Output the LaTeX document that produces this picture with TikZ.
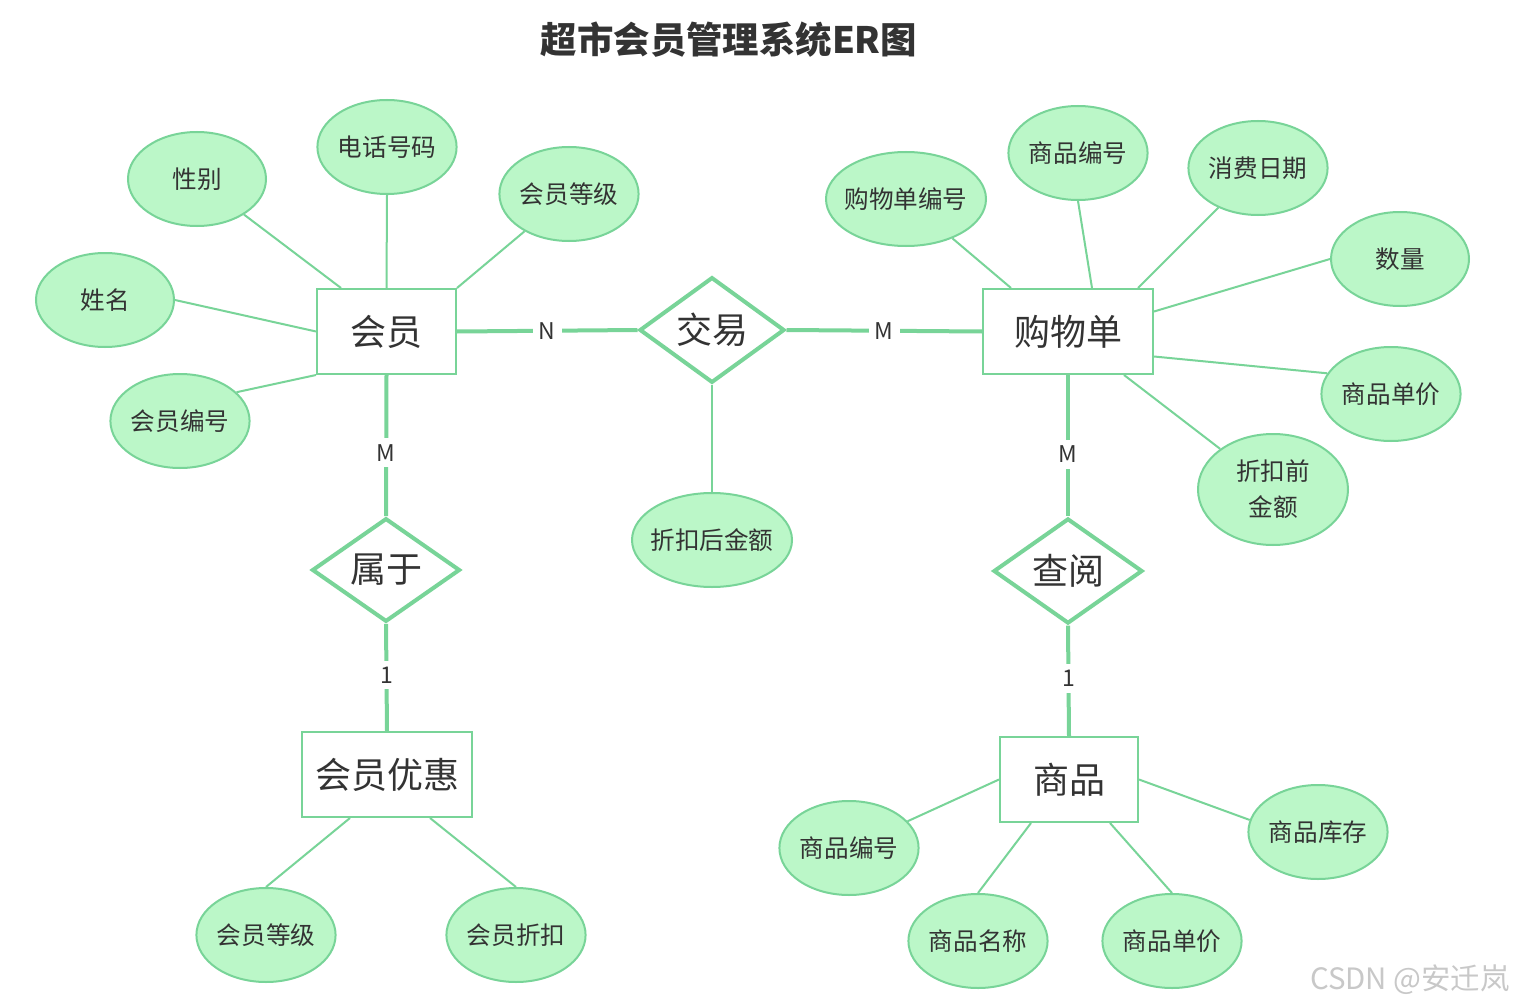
\documentclass[tikz,border=0pt]{standalone}
\usepackage{fontspec}
\setmainfont{Noto Sans CJK SC}
\usetikzlibrary{shapes.geometric,calc}
\definecolor{efill}{HTML}{BBF7C8}
\definecolor{eline}{HTML}{78D498}
\definecolor{txt}{HTML}{333333}
\definecolor{wm}{HTML}{C8C8C8}
\tikzset{
  attr/.style={ellipse,draw=eline,line width=1pt,fill=efill,inner sep=0pt,
    minimum width=69pt,minimum height=47pt,text=txt,font=\fontsize{12.3pt}{15pt}\selectfont,align=center},
  ent/.style={rectangle,draw=eline,line width=1pt,fill=white,inner sep=0pt,
    text=txt,font=\fontsize{18pt}{21pt}\selectfont},
  rel/.style={diamond,draw=eline,line width=2pt,fill=white,inner sep=0pt,
    minimum width=72.5pt,minimum height=50pt,text=txt,font=\fontsize{18pt}{21pt}\selectfont},
  aline/.style={draw=eline,line width=1pt},
  rline/.style={draw=eline,line width=2pt},
  card/.style={fill=white,inner sep=3pt,text=txt,font=\fontsize{11.5pt}{14pt}\selectfont},
}
\begin{document}
\begin{tikzpicture}[x=0.5pt,y=-0.5pt]
\path[use as bounding box,fill=white] (0,0) rectangle (1516,1006);
\node[text=txt,font=\fontsize{18.2pt}{22pt}\selectfont\bfseries] (title) at (729,40) {超市会员管理系统ER图};

% entities
\node[ent,minimum width=69.5pt,minimum height=42.5pt] (m) at (386.5,331.5) {会员};
\node[ent,minimum width=85pt,minimum height=42.5pt] (g) at (1068,331.5) {购物单};
\node[ent,minimum width=85pt,minimum height=42.5pt] (v) at (387,774.5) {会员优惠};
\node[ent,minimum width=69pt,minimum height=42.5pt] (p) at (1069,779.5) {商品};

% relationships
\node[rel] (jy) at (712,330) {交易};
\node[rel,minimum width=74pt] (sy) at (386,570) {属于};
\node[rel,minimum width=74.5pt] (cy) at (1068,571) {查阅};

% attributes of 会员
\node[attr] (xb) at (197,179) {性别};
\node[attr] (dh) at (387,147) {电话号码};
\node[attr] (dj1) at (569,194) {会员等级};
\node[attr] (xm) at (105,300) {姓名};
\node[attr] (bh1) at (180,421) {会员编号};
% attribute of 交易
\node[attr,minimum width=80pt] (zh) at (712,540) {\makebox[45pt]{折扣后金额}};
% attributes of 购物单
\node[attr,minimum width=80pt] (gbh) at (906,199) {\makebox[45pt]{购物单编号}};
\node[attr] (sbh1) at (1078,153) {商品编号};
\node[attr] (rq) at (1258,168) {消费日期};
\node[attr] (sl) at (1400,259) {数量};
\node[attr] (dj2) at (1391,394) {商品单价};
\node[attr,minimum width=75pt,minimum height=55.5pt,font=\fontsize{12.3pt}{18pt}\selectfont] (zq) at (1273,489.5) {折扣前\\金额};
% attributes of 会员优惠
\node[attr] (dj3) at (266,935) {会员等级};
\node[attr] (zk) at (516,935) {会员折扣};
% attributes of 商品
\node[attr] (sbh2) at (849,848) {商品编号};
\node[attr] (mc) at (978,941) {商品名称};
\node[attr] (dj4) at (1172,941) {商品单价};
\node[attr] (kc) at (1318,832) {商品库存};

% attribute lines
\draw[aline] (xb) -- ($(m.north west)+(25,0)$);
\draw[aline] (dh.south) -- (m.north);
\draw[aline] (dj1) -- (m.north east);
\draw[aline] (xm.east) -- (m.west);
\draw[aline] (bh1.27) -- (m.south west);
\draw[aline] (jy.south) -- (zh.north);
\draw[aline] (gbh) -- ($(g.north west)+(29,0)$);
\draw[aline] (sbh1.south) -- ($(g.north)+(24,0)$);
\draw[aline] (rq) -- ($(g.north east)+(-16,0)$);
\draw[aline] (sl.west) -- ($(g.east)+(0,-20)$);
\draw[aline] (dj2.162) -- ($(g.east)+(0,25)$);
\draw[aline] (zq) -- ($(g.south)+(56,0)$);
\draw[aline] (dj3.north) -- ($(v.south)+(-37,0)$);
\draw[aline] (zk.north) -- ($(v.south)+(43,0)$);
\draw[aline] (sbh2) -- (p.west);
\draw[aline] (mc.north) -- ($(p.south)+(-38,0)$);
\draw[aline] (dj4.north) -- ($(p.south)+(41,0)$);
\draw[aline] (kc.170) -- (p.east);

% relationship lines
\draw[rline] (m.east) -- node[card] (cn) {N} (jy.west);
\draw[rline] (jy.east) -- node[card] (cm1) {M} (g.west);
\draw[rline] (m.south) -- node[card,pos=0.55] (cm2) {M} (sy.north);
\draw[rline] (sy.south) -- node[card,pos=0.48] (c1a) {1} (v.north);
\draw[rline] (g.south) -- node[card,pos=0.56] (cm3) {M} (cy.north);
\draw[rline] (cy.south) -- node[card,pos=0.48] (c1b) {1} (p.north);

% watermark
\node[text=wm,inner sep=0pt,font=\fontsize{14.7pt}{17pt}\selectfont,anchor=east] (wmk) at (1510,980) {CSDN @安迁岚};
\end{tikzpicture}
\end{document}
